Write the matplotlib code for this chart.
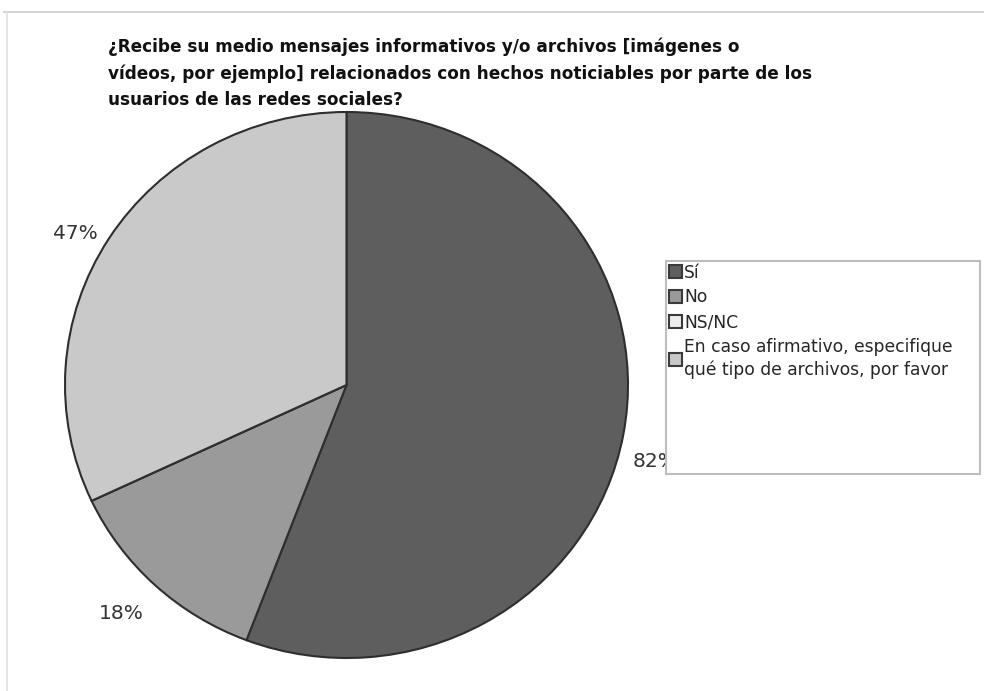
import matplotlib.pyplot as plt
from matplotlib.patches import Rectangle
from matplotlib.lines import Line2D

title = ("¿Recibe su medio mensajes informativos y/o archivos [imágenes o\n"
         "vídeos, por ejemplo] relacionados con hechos noticiables por parte de los\n"
         "usuarios de las redes sociales?")

categories = ["Sí", "No", "NS/NC",
              "En caso afirmativo, especifique\nqué tipo de archivos, por favor"]
values = [82, 18, 0, 47]
colors = ["#5e5e5e", "#9a9a9a", "#ececec", "#c9c9c9"]

labels = [f"{v}%" if v > 0 else "" for v in values]
# small nudges of the value labels, as placed in the original
label_shift = [(-0.025, -0.09), (0.0, -0.06), (0.0, 0.0), (0.01, -0.012)]

fig = plt.figure(figsize=(9.84, 6.91), dpi=100)

# faint outer frame of the screenshot
fig.add_artist(Line2D([4 / 984, 1], [1 - 12 / 691, 1 - 12 / 691],
                      transform=fig.transFigure, color="#d6d6d6", lw=1.5))
fig.add_artist(Line2D([7 / 984, 7 / 984], [0, 1 - 12 / 691],
                      transform=fig.transFigure, color="#e2e2e2", lw=1.2))

ax = fig.add_axes([65 / 984, 1 - 658 / 691, 563 / 984, 546 / 691])
wedges, texts = ax.pie(
    values,
    labels=labels,
    colors=colors,
    startangle=90,
    counterclock=False,
    labeldistance=1.06,
    wedgeprops={"edgecolor": "#2e2e2e", "linewidth": 1.5},
    textprops={"fontsize": 14.5, "color": "#333333"})
ax.set_aspect("auto")
ax.set_xlim(-1, 1)
ax.set_ylim(-1, 1)
for t, (dx, dy) in zip(texts, label_shift):
    x0, y0 = t.get_position()
    t.set_position((x0 + dx, y0 + dy))

fig.text(108 / 984, 1 - 38 / 691, title, ha="left", va="top",
         fontsize=12.2, fontweight="bold", color="#111111", linespacing=1.55)

# legend box
fig.add_artist(Rectangle((666 / 984, 1 - 474 / 691), 314 / 984, 213 / 691,
                         transform=fig.transFigure, facecolor="white",
                         edgecolor="#bdbdbd", lw=1.5, zorder=3))
leg = fig.legend(wedges, categories, loc="upper left",
                 bbox_to_anchor=(666 / 984, 1 - 261 / 691),
                 frameon=False, fontsize=12.3, handlelength=0.8,
                 handleheight=0.8, handletextpad=0.12, labelspacing=0.4,
                 borderpad=0.15, borderaxespad=0)
leg.set_zorder(4)
for t in leg.get_texts():
    t.set_color("#262626")
    t.set_linespacing(1.3)
for h in leg.legend_handles:
    h.set_edgecolor("#3a3a3a")

fig.savefig("out.png", dpi=100)
